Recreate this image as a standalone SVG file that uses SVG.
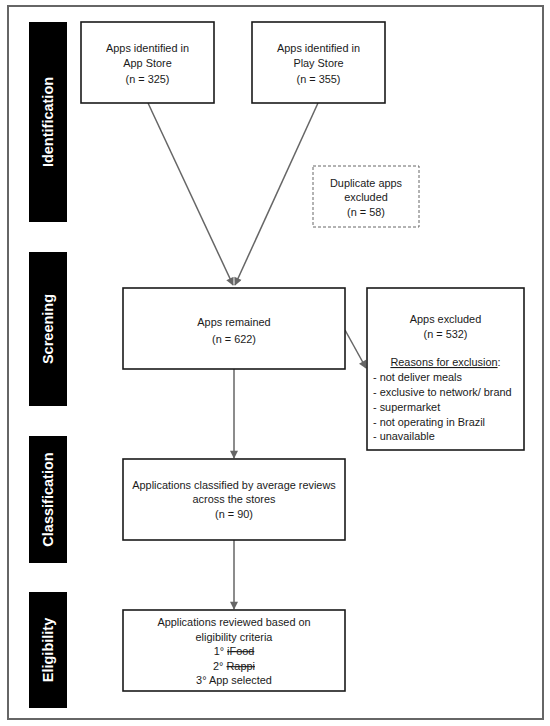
<svg xmlns="http://www.w3.org/2000/svg" width="550" height="726" viewBox="0 0 550 726">
<defs>
<style>
.bar{fill:#000}
.bl{fill:#fff;font-family:"Liberation Sans",Arial,sans-serif;font-weight:bold;font-size:14.5px;text-anchor:middle}
.box{fill:#fff;stroke:#1a1a1a;stroke-width:1.6}
.dash{fill:#fff;stroke:#666;stroke-width:1;stroke-dasharray:3,2}
.t{fill:#1a1a1a;font-family:"Liberation Sans",Arial,sans-serif;font-size:10.9px;text-anchor:middle}
.tl{text-anchor:start}
.c{stroke:#666;stroke-width:1.5;fill:none;marker-end:url(#ah)}
</style>
<marker id="ah" viewBox="0 0 10 10" refX="9" refY="5" markerWidth="9" markerHeight="8" markerUnits="userSpaceOnUse" orient="auto"><path d="M0,0 L10,5 L0,10 z" fill="#666"/></marker>
</defs>
<rect width="550" height="726" fill="#fff"/>
<rect x="8" y="6" width="535" height="713" fill="none" stroke="#666" stroke-width="2"/>
<g id="phases">
<rect class="bar" x="29" y="22" width="38" height="200"/>
<text class="bl" transform="translate(53,122) rotate(-90)">Identification</text>
<rect class="bar" x="29" y="252" width="38" height="154"/>
<text class="bl" transform="translate(53,329) rotate(-90)">Screening</text>
<rect class="bar" x="29" y="436" width="38" height="127"/>
<text class="bl" transform="translate(53,499.5) rotate(-90)">Classification</text>
<rect class="bar" x="29" y="592" width="38" height="116"/>
<text class="bl" transform="translate(53,650) rotate(-90)">Eligibility</text>
</g>
<g id="connectors">
<line class="c" x1="148" y1="103" x2="233" y2="285"/>
<line class="c" x1="318" y1="103" x2="235" y2="285"/>
<line class="c" x1="345" y1="330" x2="366" y2="368"/>
<line class="c" x1="234" y1="369" x2="234" y2="458"/>
<line class="c" x1="234" y1="540" x2="234" y2="609"/>
</g>
<g id="appstore">
<rect class="box" x="81" y="22" width="133" height="81"/>
<text class="t" x="147.5" y="52">Apps identified in</text>
<text class="t" x="147.5" y="67">App Store</text>
<text class="t" x="147.5" y="83">(n = 325)</text>
</g>
<g id="playstore">
<rect class="box" x="252" y="22" width="133" height="81"/>
<text class="t" x="318.5" y="52">Apps identified in</text>
<text class="t" x="318.5" y="67">Play Store</text>
<text class="t" x="318.5" y="83">(n = 355)</text>
</g>
<g id="duplicates">
<rect class="dash" x="313" y="166" width="106" height="61"/>
<text class="t" x="366" y="187">Duplicate apps</text>
<text class="t" x="366" y="201">excluded</text>
<text class="t" x="366" y="216">(n = 58)</text>
</g>
<g id="remained">
<rect class="box" x="123" y="288" width="222" height="81"/>
<text class="t" x="234" y="326">Apps remained</text>
<text class="t" x="234" y="343">(n = 622)</text>
</g>
<g id="excluded">
<rect class="box" x="367" y="288" width="157" height="162"/>
<text class="t" x="445.5" y="323">Apps excluded</text>
<text class="t" x="445.5" y="338">(n = 532)</text>
<text class="t" x="445.5" y="366"><tspan text-decoration="underline">Reasons for exclusion</tspan>:</text>
<text class="t tl" x="373" y="381">- not deliver meals</text>
<text class="t tl" x="373" y="396">- exclusive to network/ brand</text>
<text class="t tl" x="373" y="411">- supermarket</text>
<text class="t tl" x="373" y="426">- not operating in Brazil</text>
<text class="t tl" x="373" y="440">- unavailable</text>
</g>
<g id="classified">
<rect class="box" x="123" y="459" width="222" height="81"/>
<text class="t" x="234" y="489">Applications classified by average reviews</text>
<text class="t" x="234" y="503">across the stores</text>
<text class="t" x="234" y="518">(n = 90)</text>
</g>
<g id="eligibility">
<rect class="box" x="123" y="610" width="222" height="81"/>
<text class="t" x="234" y="626">Applications reviewed based on</text>
<text class="t" x="234" y="641">eligibility criteria</text>
<text class="t" x="234" y="655">1° <tspan text-decoration="line-through">iFood</tspan></text>
<text class="t" x="234" y="670">2° <tspan text-decoration="line-through">Rappi</tspan></text>
<text class="t" x="234" y="684">3° App selected</text>
</g>
</svg>
